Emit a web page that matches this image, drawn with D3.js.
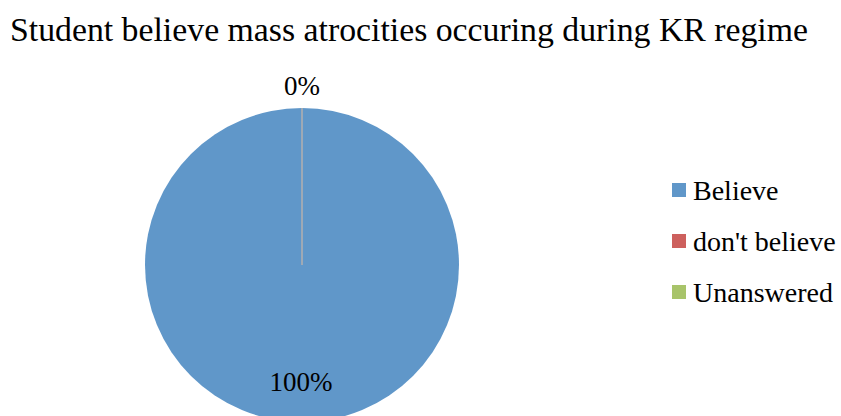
<!DOCTYPE html>
<html>
<head>
<meta charset="utf-8">
<script src="https://cdn.jsdelivr.net/npm/d3@7"></script>
<style>
  body { margin: 0; background: #fff; }
  text { font-family: "Liberation Serif", serif; fill: #000; }
</style>
</head>
<body>
<div class="wrapper"></div>
<script>
var title = "Student believe mass atrocities occuring during KR regime";
var categories = ["Believe", "don't believe", "Unanswered"];
var values = [100, 0, 0];
var colors = ["#6097c9", "#cd605d", "#a8c46a"];

var W = 841, H = 416;
var cx = 302, cy = 265, r = 157;

var svg = d3.select(".wrapper")
  .append("svg")
  .attr("width", W)
  .attr("height", H);

svg.append("text")
  .attr("x", 10)
  .attr("y", 41)
  .attr("font-size", 34)
  .attr("textLength", 798)
  .attr("lengthAdjust", "spacingAndGlyphs")
  .text(title);

var pie = d3.pie().sort(null).value(function (d) { return d; });
var arc = d3.arc().innerRadius(0).outerRadius(r);
var slices = pie(values);

var g = svg.append("g")
  .attr("transform", "translate(" + cx + "," + cy + ")");

g.selectAll("path")
  .data(slices)
  .enter()
  .append("path")
  .attr("d", arc)
  .attr("fill", function (d, i) { return colors[i]; })
  .attr("stroke", function (d) { return d.value === 0 ? "#a3abb4" : "none"; })
  .attr("stroke-width", 1);

// data labels: a zero slice sits on top, the full slice in the lower half
var total = d3.sum(values);
var fmt = function (v) { return Math.round(v / total * 100) + "%"; };
var labelPos = [[-1, 126], [0, -170], [0, -170]];
g.selectAll("text.lbl")
  .data(slices.slice(0, 2))
  .enter()
  .append("text")
  .attr("class", "lbl")
  .attr("x", function (d, i) { return labelPos[i][0]; })
  .attr("y", function (d, i) { return labelPos[i][1]; })
  .attr("text-anchor", "middle")
  .attr("font-size", 27)
  .text(function (d) { return fmt(d.value); });

var legend = svg.append("g")
  .attr("transform", "translate(672,183)");

var item = legend.selectAll("g")
  .data(categories)
  .enter()
  .append("g")
  .attr("transform", function (d, i) { return "translate(0," + (i * 51) + ")"; });

item.append("rect")
  .attr("width", 14)
  .attr("height", 14)
  .attr("fill", function (d, i) { return colors[i]; });

item.append("text")
  .attr("x", 21)
  .attr("y", 17)
  .attr("font-size", 28)
  .text(function (d) { return d; });
</script>
</body>
</html>
